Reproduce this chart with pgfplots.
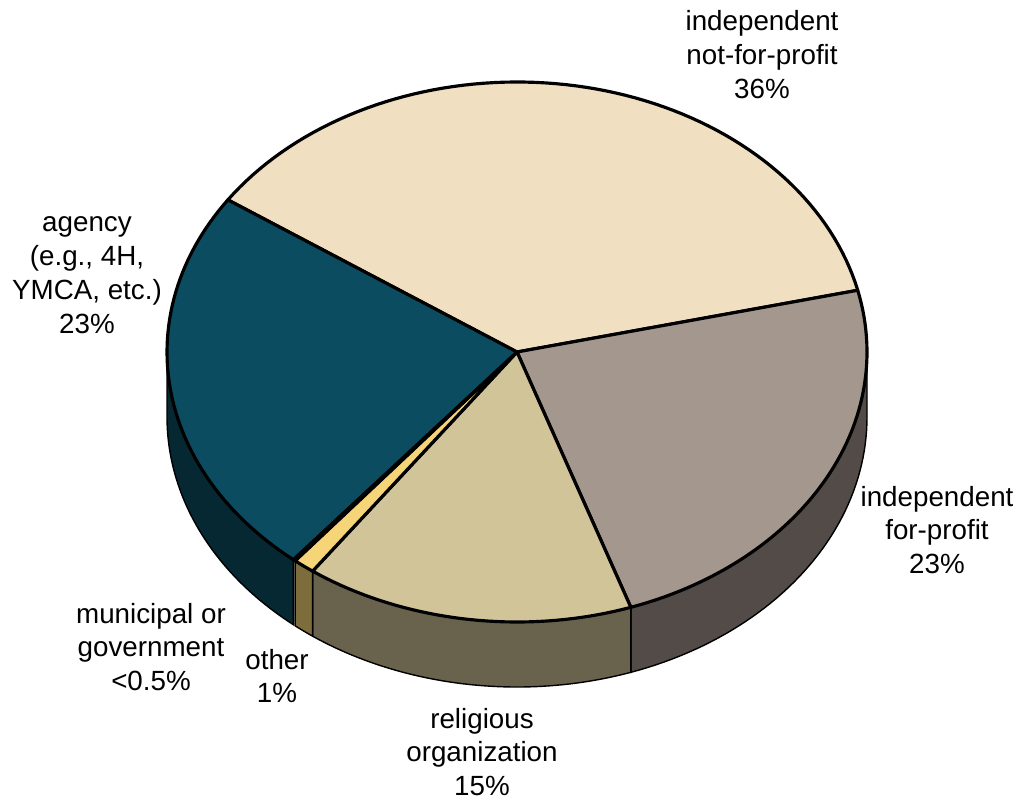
\documentclass[border=0pt]{standalone}
\usepackage{pgfplots}
\pgfplotsset{compat=1.18}
\usepgfplotslibrary{fillbetween}
\usepackage{fontspec}
\setmainfont{Liberation Sans}
\definecolor{cNFP}{RGB}{240,223,192}
\definecolor{cFP}{RGB}{164,151,141}
\definecolor{cREL}{RGB}{208,196,152}
\definecolor{cOTH}{RGB}{245,213,120}
\definecolor{cAG}{RGB}{12,76,96}
\definecolor{sFP}{RGB}{82,75,72}
\definecolor{sREL}{RGB}{105,99,78}
\definecolor{sOTH}{RGB}{125,108,60}
\definecolor{sAG}{RGB}{6,40,50}
\begin{document}
\begin{tikzpicture}
\def\cx{517}\def\cy{447}\def\rx{350}\def\ry{270}\def\dep{65}
% shares in percent
\def\vNFP{36.8}\def\vFP{23.4}\def\vREL{15.2}\def\vOTH{1.0}\def\vMUN{0.1}\def\vAG{23.5}
\pgfmathsetmacro\aZ{145.7}
\pgfmathsetmacro\aA{\aZ-3.6*\vNFP}
\pgfmathsetmacro\aB{\aA-3.6*\vFP}
\pgfmathsetmacro\aC{\aB-3.6*\vREL}
\pgfmathsetmacro\aD{\aC-3.6*\vOTH}
\pgfmathsetmacro\aE{\aD-3.6*\vMUN}
\pgfmathsetmacro\aF{\aE-3.6*\vAG}
\begin{axis}[hide axis, scale only axis, width=10.2cm, height=7.99cm,
  xmin=0, xmax=1020, ymin=0, ymax=799, clip=false,
  every axis plot/.append style={line width=0.9pt,line join=round}]
% ---- side faces
\addplot[draw=none,name path=t1,domain=\aB:0,samples=50]({\cx+\rx*cos(x)},{\cy+\ry*sin(x)});
\addplot[draw=none,name path=b1,domain=\aB:0,samples=50]({\cx+\rx*cos(x)},{\cy-\dep+\ry*sin(x)});
\addplot[fill=sFP,draw=black] fill between[of=t1 and b1];
\addplot[draw=none,name path=t2,domain=\aC:\aB,samples=50]({\cx+\rx*cos(x)},{\cy+\ry*sin(x)});
\addplot[draw=none,name path=b2,domain=\aC:\aB,samples=50]({\cx+\rx*cos(x)},{\cy-\dep+\ry*sin(x)});
\addplot[fill=sREL,draw=black] fill between[of=t2 and b2];
\addplot[draw=none,name path=t3,domain=\aD:\aC,samples=5]({\cx+\rx*cos(x)},{\cy+\ry*sin(x)});
\addplot[draw=none,name path=b3,domain=\aD:\aC,samples=5]({\cx+\rx*cos(x)},{\cy-\dep+\ry*sin(x)});
\addplot[fill=sOTH,draw=black] fill between[of=t3 and b3];
\addplot[draw=none,name path=t4,domain=-180:\aE,samples=50]({\cx+\rx*cos(x)},{\cy+\ry*sin(x)});
\addplot[draw=none,name path=b4,domain=-180:\aE,samples=50]({\cx+\rx*cos(x)},{\cy-\dep+\ry*sin(x)});
\addplot[fill=sAG,draw=black] fill between[of=t4 and b4];
% ---- top faces
\addplot[fill=cNFP,draw=black,domain=\aA:\aZ,samples=80]
  ({\cx+\rx*cos(x)},{\cy+\ry*sin(x)}) -- (axis cs:\cx,\cy) -- cycle;
\addplot[fill=cFP,draw=black,domain=\aB:\aA,samples=60]
  ({\cx+\rx*cos(x)},{\cy+\ry*sin(x)}) -- (axis cs:\cx,\cy) -- cycle;
\addplot[fill=cREL,draw=black,domain=\aC:\aB,samples=40]
  ({\cx+\rx*cos(x)},{\cy+\ry*sin(x)}) -- (axis cs:\cx,\cy) -- cycle;
\addplot[fill=cOTH,draw=black,domain=\aD:\aC,samples=5]
  ({\cx+\rx*cos(x)},{\cy+\ry*sin(x)}) -- (axis cs:\cx,\cy) -- cycle;
\addplot[fill=cAG,draw=black,domain=\aF:\aE,samples=60]
  ({\cx+\rx*cos(x)},{\cy+\ry*sin(x)}) -- (axis cs:\cx,\cy) -- cycle;
\addplot[fill=cAG,draw=black,domain=\aE:\aD,samples=3]
  ({\cx+\rx*cos(x)},{\cy+\ry*sin(x)}) -- (axis cs:\cx,\cy) -- cycle;
% ---- labels
\tikzset{lab/.style={align=center,font=\fontsize{7.9}{9.65}\selectfont,inner sep=0pt}}
\node[lab] at (axis cs:762,744) {independent\\not-for-profit\\36\%};
\node[lab] at (axis cs:87,524) {agency\\(e.g., 4H,\\YMCA, etc.)\\23\%};
\node[lab] at (axis cs:937,269) {independent\\for-profit\\23\%};
\node[lab] at (axis cs:151,152) {municipal or\\government\\<0.5\%};
\node[lab] at (axis cs:277,123) {other\\1\%};
\node[lab] at (axis cs:482,47) {religious\\organization\\15\%};
\end{axis}
\pgfresetboundingbox
\useasboundingbox (current axis.south west) rectangle (current axis.north east);
\end{tikzpicture}
\end{document}
